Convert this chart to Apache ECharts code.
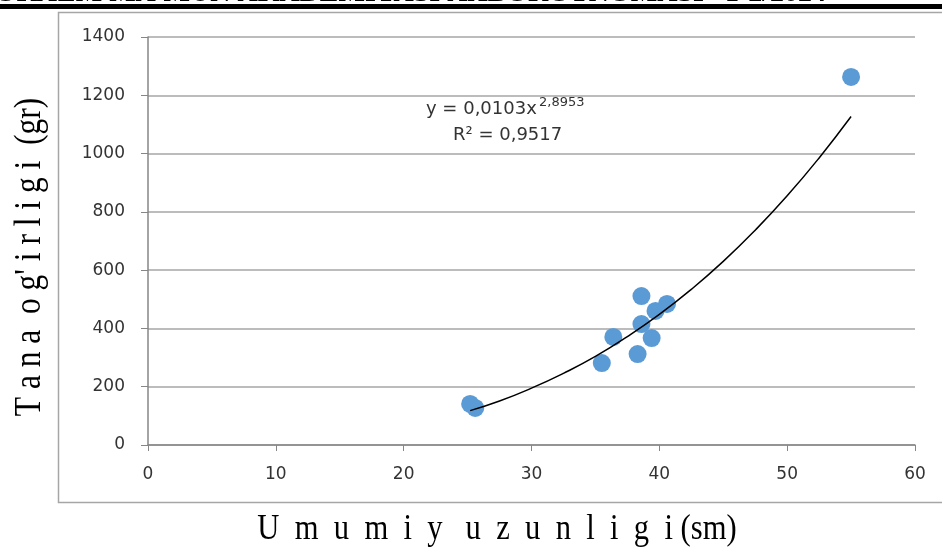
<!DOCTYPE html>
<html>
<head>
<meta charset="utf-8">
<script src="https://cdn.jsdelivr.net/npm/echarts@6/dist/echarts.min.js"></script>
<style>
  html, body { margin: 0; padding: 0; background: #fff; }
  #chart { width: 942px; height: 553px; }
</style>
</head>
<body>
<div id="chart"></div>
<script>
  // o'lchangan nuqtalar: uzunlik (sm), og'irlik (gr)
  const lengths = [25.2, 25.6, 35.5, 36.4, 38.6, 38.6, 38.3, 39.4, 39.7, 40.6, 55.0]
  const weights = [141, 127, 281, 371, 511, 415, 312, 367, 460, 484, 1263]

  // trend chizig'i (rasmdan o'qilgan nuqtalar)
  const trendX = [25.2, 27.5, 30, 32.5, 35, 37.5, 40, 42.5, 45, 47.5, 50, 52.5, 55]
  const trendY = [118, 151, 195, 246, 304, 372, 448, 534, 630, 737, 855, 985, 1127]

  const xTicks = { min: 0, max: 60, interval: 10 }
  const yTicks = { min: 0, max: 1400, interval: 200 }

  const xTitle = 'U  m  u  m  i  y   u  z  u  n  l  i  g  i (sm)'
  const yTitle = "T a n a  o g' i r l i g i  (gr)"

  const labelFont = { fontFamily: 'DejaVu Sans', fontSize: 17, color: '#333' }

  const chart = echarts.init(document.getElementById('chart'))

  const option = {
    animation: false,
    backgroundColor: '#fff',
    graphic: [
      {
        type: 'rect',
        shape: { x: 58.5, y: 12.5, width: 900, height: 490 },
        style: { fill: 'none', stroke: '#a6a6a6', lineWidth: 1.5 },
        silent: true,
      },
      {
        type: 'text',
        style: {
          x: 826,
          y: 8,
          text: "XORAZM MA'MUN AKADEMIYASI AXBOROTNOMASI –1-2/2024",
          font: 'bold 28px "Liberation Serif"',
          fill: '#000',
          align: 'right',
          verticalAlign: 'bottom',
        },
        silent: true,
      },
      {
        type: 'rect',
        shape: { x: 0, y: 4, width: 942, height: 5 },
        style: { fill: '#000' },
        silent: true,
      },
      // trend tenglamasi
      {
        type: 'text',
        style: { x: 426, y: 109, text: 'y = 0,0103x', font: '18px "DejaVu Sans"', fill: '#333', verticalAlign: 'middle' },
        silent: true,
      },
      {
        type: 'text',
        style: { x: 539, y: 103, text: '2,8953', font: '13px "DejaVu Sans"', fill: '#333', verticalAlign: 'middle' },
        silent: true,
      },
      {
        type: 'text',
        style: { x: 453, y: 135, text: 'R² = 0,9517', font: '18px "DejaVu Sans"', fill: '#333', verticalAlign: 'middle' },
        silent: true,
      },
      // o'q nomlari
      {
        type: 'text',
        x: 497,
        y: 530,
        scaleX: 0.85,
        style: { x: 0, y: 0, text: xTitle, font: '36px "Liberation Serif"', fill: '#000', align: 'center', verticalAlign: 'middle' },
        silent: true,
      },
      {
        type: 'text',
        x: 30,
        y: 257,
        rotation: Math.PI / 2,
        scaleX: 0.85,
        style: { x: 0, y: 0, text: yTitle, font: '37px "Liberation Serif"', fill: '#000', align: 'center', verticalAlign: 'middle' },
        silent: true,
      },
    ],
    grid: {
      left: 148,
      right: 27,
      top: 37,
      bottom: 108,
    },
    xAxis: {
      type: 'value',
      min: xTicks.min,
      max: xTicks.max,
      interval: xTicks.interval,
      axisLine: { lineStyle: { color: '#868686', width: 1.5 } },
      axisTick: { show: true, length: 6, lineStyle: { color: '#868686' } },
      axisLabel: Object.assign({ margin: 21 }, labelFont),
      splitLine: { show: false },
    },
    yAxis: {
      type: 'value',
      min: yTicks.min,
      max: yTicks.max,
      interval: yTicks.interval,
      axisLine: { show: true, lineStyle: { color: '#868686', width: 1.5 } },
      axisTick: { show: true, length: 7, lineStyle: { color: '#868686' } },
      axisLabel: Object.assign({ margin: 23, formatter: (v) => String(v) }, labelFont),
      splitLine: { show: true, lineStyle: { color: '#a6a6a6', width: 1.5 } },
    },
    series: [
      {
        name: 'trend',
        type: 'line',
        data: trendX.map((x, i) => [x, trendY[i]]),
        smooth: true,
        showSymbol: false,
        lineStyle: { color: '#000', width: 1.5 },
        z: 3,
      },
      {
        name: 'nuqtalar',
        type: 'scatter',
        data: lengths.map((x, i) => [x, weights[i]]),
        symbol: 'circle',
        symbolSize: 18,
        itemStyle: { color: '#5b9bd5', opacity: 1 },
        z: 2,
      },
    ],
  }

  chart.setOption(option)
</script>
</body>
</html>
